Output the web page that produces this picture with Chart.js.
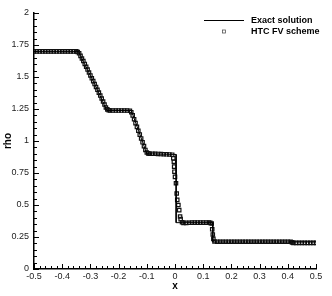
<!DOCTYPE html>
<html>
<head>
<meta charset="utf-8">
<script src="https://cdn.jsdelivr.net/npm/chart.js@4"></script>
<style>
  html, body { margin: 0; padding: 0; background: #fff; }
  #wrap { width: 332px; height: 296px; }
</style>
</head>
<body>
<div id="wrap"><canvas id="chart" width="332" height="296"></canvas></div>
<script>
// --- data ---
const exactX   = [-0.5, -0.343, -0.32, -0.29, -0.265, -0.242, -0.155, -0.13, -0.1, 0.004, 0.004, 0.134, 0.134, 0.5];
const exactRho = [1.7, 1.7, 1.598, 1.468, 1.352, 1.238, 1.238, 1.085, 0.9, 0.895, 0.362, 0.362, 0.211, 0.211];

const numX = [
  -0.50, -0.49, -0.48, -0.47, -0.46, -0.45, -0.44, -0.43, -0.42, -0.41, -0.40, -0.39, -0.38, -0.37, -0.36, -0.35, -0.345,
  -0.34, -0.335, -0.33, -0.325, -0.32, -0.315, -0.31, -0.305, -0.30, -0.295, -0.29, -0.285, -0.28, -0.275, -0.27, -0.265,
  -0.26, -0.255, -0.25, -0.245, -0.24, -0.235,
  -0.23, -0.22, -0.21, -0.20, -0.19, -0.18, -0.17, -0.16,
  -0.155, -0.15, -0.145, -0.14, -0.135, -0.13, -0.125, -0.12, -0.115, -0.11, -0.105, -0.10, -0.095,
  -0.09, -0.08, -0.07, -0.06, -0.05, -0.04, -0.03, -0.02, -0.01,
  -0.006, -0.004, -0.003, -0.002, 0.0, 0.0035, 0.006, 0.008, 0.012, 0.015, 0.018, 0.02,
  0.025, 0.03, 0.04, 0.05, 0.06, 0.07, 0.08, 0.09, 0.10, 0.11, 0.12, 0.125,
  0.130, 0.132, 0.134, 0.136, 0.14,
  0.15, 0.16, 0.17, 0.18, 0.19, 0.20, 0.21, 0.22, 0.23, 0.24, 0.25, 0.26, 0.27, 0.28,
  0.29, 0.30, 0.31, 0.32, 0.33, 0.34, 0.35, 0.36, 0.37, 0.38, 0.39, 0.40, 0.41,
  0.415, 0.42, 0.43, 0.44, 0.45, 0.46, 0.47, 0.48, 0.49, 0.50
];
const numRho = [
  1.70, 1.70, 1.70, 1.70, 1.70, 1.70, 1.70, 1.70, 1.70, 1.70, 1.70, 1.70, 1.70, 1.70, 1.70, 1.70, 1.695,
  1.685, 1.665, 1.645, 1.625, 1.602, 1.580, 1.558, 1.535, 1.512, 1.490, 1.468, 1.445, 1.422, 1.400, 1.378, 1.355,
  1.332, 1.308, 1.285, 1.262, 1.247, 1.240,
  1.238, 1.238, 1.238, 1.238, 1.238, 1.238, 1.238, 1.236,
  1.225, 1.200, 1.170, 1.140, 1.110, 1.080, 1.050, 1.020, 0.990, 0.960, 0.930, 0.910, 0.903,
  0.900, 0.900, 0.900, 0.899, 0.898, 0.897, 0.896, 0.895, 0.893,
  0.865, 0.838, 0.80, 0.76, 0.72, 0.67, 0.59, 0.54, 0.50, 0.46, 0.41, 0.39,
  0.365, 0.360, 0.360, 0.361, 0.362, 0.362, 0.362, 0.362, 0.362, 0.362, 0.362, 0.360,
  0.355, 0.31, 0.27, 0.235, 0.215,
  0.213, 0.213, 0.213, 0.213, 0.213, 0.213, 0.213, 0.213, 0.213, 0.213, 0.213, 0.213, 0.213, 0.213,
  0.213, 0.213, 0.213, 0.213, 0.213, 0.213, 0.213, 0.213, 0.213, 0.213, 0.213, 0.213, 0.213,
  0.208, 0.204, 0.204, 0.204, 0.204, 0.204, 0.204, 0.204, 0.204, 0.204
];

const xMin = -0.5, xMax = 0.5, xMinorStep = 0.02, xMajorStep = 0.1;
const yMin = 0, yMax = 2, yMinorStep = 0.05, yMajorStep = 0.25;

const isMajor = (v, step) => Math.abs(v / step - Math.round(v / step)) < 1e-6;
const fmt = v => String(Math.round(v * 100) / 100);

// inward major/minor tick marks on the left and bottom axes
const innerTicks = {
  id: 'innerTicks',
  afterDraw(chart) {
    const { ctx, chartArea, scales } = chart;
    ctx.save();
    ctx.strokeStyle = '#000';
    ctx.lineWidth = 1;
    scales.x.ticks.forEach(t => {
      const px = Math.round(scales.x.getPixelForValue(t.value)) + 0.5;
      const len = isMajor(t.value, xMajorStep) ? 5 : 3;
      ctx.beginPath(); ctx.moveTo(px, chartArea.bottom); ctx.lineTo(px, chartArea.bottom - len); ctx.stroke();
    });
    scales.y.ticks.forEach(t => {
      const py = Math.round(scales.y.getPixelForValue(t.value)) + 0.5;
      const len = isMajor(t.value, yMajorStep) ? 5 : 3;
      ctx.beginPath(); ctx.moveTo(chartArea.left, py); ctx.lineTo(chartArea.left + len, py); ctx.stroke();
    });
    ctx.restore();
  }
};

// legend in the top right corner, Tecplot style
const cornerLegend = {
  id: 'cornerLegend',
  afterDraw(chart) {
    const { ctx } = chart;
    const ds = chart.data.datasets;
    ctx.save();
    ctx.font = 'bold 9px "Liberation Sans", Arial, sans-serif';
    ctx.fillStyle = '#000';
    ctx.textBaseline = 'middle';
    ctx.textAlign = 'left';
    // line sample
    ctx.strokeStyle = '#000';
    ctx.lineWidth = 1;
    ctx.beginPath(); ctx.moveTo(204, 20.5); ctx.lineTo(244, 20.5); ctx.stroke();
    ctx.fillText(ds[0].label, 251, 20.5);
    // symbol sample
    ctx.strokeStyle = '#555';
    ctx.lineWidth = 0.8;
    ctx.strokeRect(222.5, 30, 3, 3);
    ctx.fillText(ds[1].label, 251, 31.5);
    ctx.restore();
  }
};

const tickFont = { family: '"Liberation Sans", Arial, sans-serif', size: 9 };
const titleFont = { family: '"Liberation Sans", Arial, sans-serif', size: 10, weight: 'bold' };

new Chart(document.getElementById('chart'), {
  type: 'scatter',
  data: {
    datasets: [
      {
        type: 'line',
        label: 'Exact solution',
        data: exactX.map((x, i) => ({ x, y: exactRho[i] })),
        borderColor: '#000',
        borderWidth: 1,
        pointRadius: 0,
        tension: 0,
        fill: false
      },
      {
        label: 'HTC FV scheme',
        data: numX.map((x, i) => ({ x, y: numRho[i] })),
        pointStyle: 'rect',
        pointRadius: 2.4,
        borderColor: '#111',
        borderWidth: 1.2,
        backgroundColor: 'rgba(0,0,0,0)'
      }
    ]
  },
  options: {
    responsive: false,
    animation: false,
    devicePixelRatio: 1,
    layout: { padding: { top: 13, right: 16, left: 0, bottom: 0 } },
    plugins: { legend: { display: false }, tooltip: { enabled: false } },
    scales: {
      x: {
        type: 'linear',
        min: xMin, max: xMax,
        afterFit: s => { s.height = 27; },
        grid: { display: false, drawTicks: false },
        border: { display: true, color: '#000', width: 1.5 },
        ticks: {
          stepSize: xMinorStep, autoSkip: false, maxRotation: 0, padding: 2,
          color: '#222', font: tickFont,
          callback: v => isMajor(v, xMajorStep) ? fmt(v) : ''
        },
        title: { display: true, text: 'x', color: '#000', font: titleFont, padding: { top: 0, bottom: 4 } }
      },
      y: {
        type: 'linear',
        min: yMin, max: yMax,
        afterFit: s => { s.width = 34; },
        grid: { display: false, drawTicks: false },
        border: { display: true, color: '#000', width: 1.5 },
        ticks: {
          stepSize: yMinorStep, autoSkip: false, padding: 5,
          color: '#222', font: tickFont,
          callback: v => isMajor(v, yMajorStep) ? fmt(v) : ''
        },
        title: { display: true, text: 'rho', color: '#000', font: titleFont, padding: { top: 2, bottom: 0 } }
      }
    }
  },
  plugins: [innerTicks, cornerLegend]
});
</script>
</body>
</html>
